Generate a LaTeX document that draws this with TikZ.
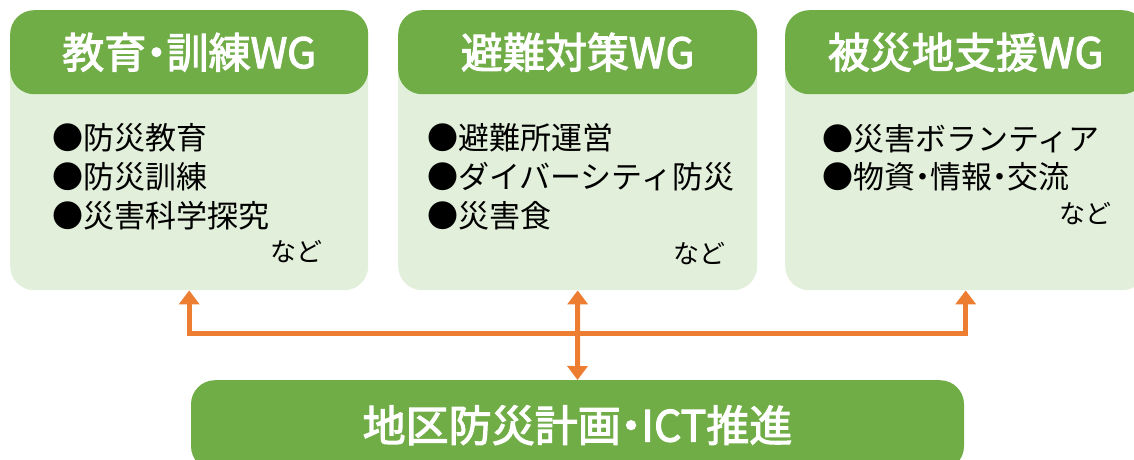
\documentclass[tikz,border=0pt]{standalone}
\usepackage{fontspec}
\setmainfont{Noto Sans CJK JP}
\newfontfamily\hdrfont[FakeBold=2.5]{Noto Sans CJK JP}
\usetikzlibrary{arrows.meta}
\definecolor{dkgreen}{HTML}{70AD47}
\definecolor{ltgreen}{HTML}{E2EFDA}
\definecolor{orng}{HTML}{ED7D31}
\newcommand{\nd}{\kern-0.26em・\kern-0.26em}
\tikzset{
  panel/.style={fill=ltgreen, rounded corners=24pt, inner sep=0pt, minimum height=280pt, anchor=north west},
  header/.style={fill=dkgreen, rounded corners=24pt, inner sep=0pt, minimum height=84pt, anchor=north, text=white, font=\fontsize{42}{48}\hdrfont},
  item/.style={anchor=west, inner sep=0pt, font=\fontsize{31}{36}\selectfont},
  nado/.style={anchor=east, inner sep=0pt, font=\fontsize{26}{32}\selectfont},
  arr/.style={draw=orng, line width=5pt, {Triangle[width=20pt,length=14pt]}-{Triangle[width=20pt,length=14pt]}}
}
\begin{document}
\begin{tikzpicture}[x=1pt,y=-1pt]
\useasboundingbox (0,0) rectangle (1134,459);
\clip (0,0) rectangle (1134,459);
% panels
\node[panel, minimum width=358pt] (b1) at (10,10) {};
\node[panel, minimum width=359pt] (b2) at (398,10) {};
\node[panel, minimum width=361pt] (b3) at (785,10) {};
\node[header, minimum width=358pt] (h1) at (b1.north) {教育\nd 訓練WG};
\node[header, minimum width=359pt] (h2) at (b2.north) {避難対策WG};
\node[header, minimum width=361pt] (h3) at (b3.north) {被災地支援WG};
% items
\node[item] (i11) at (52,138) {●防災教育};
\node[item] (i12) at (52,177) {●防災訓練};
\node[item] (i13) at (52,216) {●災害科学探究};
\node[nado] (n1) at (323,252) {など};
\node[item] (i21) at (427,138) {●避難所運営};
\node[item] (i22) at (427,177) {●ダイバーシティ防災};
\node[item] (i23) at (427,216) {●災害食};
\node[nado] (n2) at (726,254) {など};
\node[item] (i31) at (822,139) {●災害ボランティア};
\node[item] (i32) at (822,177) {●物資\nd 情報\nd 交流};
\node[nado] (n3) at (1112,214) {など};
% bottom
\node[header, minimum width=773pt, minimum height=90pt, font=\fontsize{43}{48}\hdrfont] (bot) at (577.5,380) {地区防災計画\nd ICT推進};
% connectors
\coordinate (hub) at (577.5,333);
\draw[arr] (b2.south) -- (bot.north);
\draw[arr] (b1.south) |- (hub) -| (b3.south);
\end{tikzpicture}
\end{document}
